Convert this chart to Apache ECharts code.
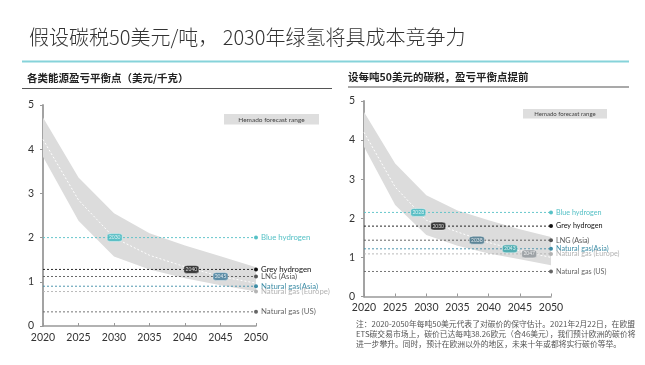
<!DOCTYPE html>
<html>
<head>
<meta charset="utf-8">
<script src="https://cdn.jsdelivr.net/npm/echarts@6/dist/echarts.min.js"></script>
<style>
html,body{margin:0;padding:0;background:#fff;}
#c{width:645px;height:365px;}
</style>
</head>
<body>
<div id="c"></div>
<script>
// ---------- data ----------
const years = [2020, 2025, 2030, 2035, 2040, 2045, 2050];
const xTicks = ['2020','2025','2030','2035','2040','2045','2050'];

// left chart: break-even without carbon tax
const leftUpper  = [4.72, 3.36, 2.55, 2.10, 1.82, 1.58, 1.33];
const leftLower  = [3.83, 2.38, 1.57, 1.28, 1.08, 0.92, 0.78];
const leftMedian = [4.22, 2.85, 2.00, 1.60, 1.34, 1.12, 0.97];
const fuelNames  = ['Blue hydrogen', 'Grey hydrogen', 'LNG (Asia)', 'Natural gas(Asia)', 'Natural gas (Europe)', 'Natural gas (US)'];
const leftLevels = [2.00, 1.28, 1.12, 0.90, 0.78, 0.32];
const leftBadgeYears = ['2030', '2040', '2045'];
const leftBadgeX     = [2030.1, 2040.9, 2045.0];
const leftBadgeY     = [2.00, 1.28, 1.12];

// right chart: with 50 USD/t carbon tax
const rightUpper  = [4.72, 3.40, 2.59, 2.20, 1.95, 1.72, 1.52];
const rightLower  = [3.83, 2.34, 1.57, 1.30, 1.10, 0.95, 0.80];
const rightMedian = [4.20, 2.80, 1.95, 1.65, 1.38, 1.17, 1.00];
const rightLevels = [2.15, 1.80, 1.44, 1.22, 1.09, 0.64];
const rightBadgeYears = ['2028', '2030', '2038', '2043', '2047'];
const rightBadgeX     = [2028.7, 2031.9, 2038.1, 2043.4, 2046.5];
const rightBadgeY     = [2.15, 1.80, 1.44, 1.22, 1.09];

// ---------- styles ----------
const FONT = 'Lato, "Noto Sans CJK SC", sans-serif';
const lineColors  = ['#56c1c6', '#111111', '#555555', '#3e8da6', '#b3b3b3', '#666666'];
const labelColors = ['#56c1c6', '#111111', '#555555', '#3e8da6', '#b3b3b3', '#666666'];
const leftBadgeColors  = ['#3cb8bf', '#111111', '#3d7b9b'];
const rightBadgeColors = ['#3cb8bf', '#111111', '#3e6f86', '#2fa2a8', '#8d9398'];

const grids = [
  {left: 43, right: 389, top: 105, bottom: 39},
  {left: 364, right: 94, top: 101, bottom: 68.5}
];

function xAxis(i) {
  return {
    type: 'value', gridIndex: i, min: 2020, max: 2050, interval: 5,
    axisLine: {lineStyle: {color: '#999', width: 1.5}},
    axisTick: {inside: true, length: 3, lineStyle: {color: '#999'}},
    axisLabel: {color: '#333', fontSize: 10.5, fontFamily: FONT, margin: 6,
      formatter: v => xTicks[years.indexOf(v)] || ''},
    splitLine: {show: false}
  };
}
function yAxis(i) {
  return {
    type: 'value', gridIndex: i, min: 0, max: 5, interval: 1,
    axisLine: {show: true, lineStyle: {color: '#999', width: 1.8}},
    axisTick: {show: true, length: 3, lineStyle: {color: '#999'}},
    axisLabel: {color: '#333', fontSize: 10.5, fontFamily: FONT, margin: 9},
    splitLine: {show: false}
  };
}

function bandSeries(i, upper, lower) {
  return {
    type: 'custom', xAxisIndex: i, yAxisIndex: i, z: 1, silent: true,
    data: [[2020, 0]],
    renderItem: function (params, api) {
      const pts = [];
      for (let k = 0; k < years.length; k++) pts.push(api.coord([years[k], upper[k]]));
      for (let k = years.length - 1; k >= 0; k--) pts.push(api.coord([years[k], lower[k]]));
      return {type: 'polygon', shape: {points: pts}, style: {fill: '#dcdcdc'}};
    }
  };
}
function medianSeries(i, med) {
  return {
    type: 'line', xAxisIndex: i, yAxisIndex: i, z: 3, silent: true,
    data: years.map((y, k) => [y, med[k]]),
    showSymbol: false, symbol: 'none',
    lineStyle: {color: '#ffffff', width: 1, type: [2, 2]}
  };
}
function levelSeries(i, levels, fontSize) {
  return levels.map((v, k) => ({
    type: 'line', xAxisIndex: i, yAxisIndex: i, z: 4, silent: true,
    data: [
      {value: [2020, v], symbol: 'none'},
      {value: [2050, v], symbol: 'circle', symbolSize: 4,
        label: {show: true, position: 'right', distance: 3, formatter: fuelNames[k],
          color: labelColors[k], fontSize: fontSize, fontFamily: FONT}}
    ],
    itemStyle: {color: lineColors[k]},
    lineStyle: {color: lineColors[k], width: 1, type: [2, 2], opacity: 0.9}
  }));
}
function badgeSeries(i, xs, ys, labels, colors) {
  return {
    type: 'scatter', xAxisIndex: i, yAxisIndex: i, z: 6, silent: true,
    symbol: 'roundRect', symbolSize: [15, 8],
    data: xs.map((x, k) => ({
      value: [x, ys[k]],
      itemStyle: {color: colors[k], borderColor: '#fff', borderWidth: 0.5},
      label: {show: true, position: 'inside', formatter: labels[k], color: '#fff', fontSize: 5, fontFamily: FONT}
    }))
  };
}

const series = [].concat(
  [bandSeries(0, leftUpper, leftLower), medianSeries(0, leftMedian)],
  levelSeries(0, leftLevels, 7.8),
  [badgeSeries(0, leftBadgeX, leftBadgeY, leftBadgeYears, leftBadgeColors)],
  [bandSeries(1, rightUpper, rightLower), medianSeries(1, rightMedian)],
  levelSeries(1, rightLevels, 7.2),
  [badgeSeries(1, rightBadgeX, rightBadgeY, rightBadgeYears, rightBadgeColors)]
);

const note = '注：2020-2050年每吨50美元代表了对碳价的保守估计。2021年2月22日，在欧盟\nETS碳交易市场上，碳价已达每吨38.26欧元（合46美元），我们预计欧洲的碳价将\n进一步攀升。同时，预计在欧洲以外的地区，未来十年或都将实行碳价等举。';

const graphic = [
  {type: 'text', left: 29, top: 27, style: {text: '假设碳税50美元/吨， 2030年绿氢将具成本竞争力', fill: '#333', fontSize: 20, fontWeight: 300, fontFamily: '"Noto Sans CJK SC", sans-serif'}},
  {type: 'rect', shape: {x: 22, y: 60.5, width: 607, height: 2}, style: {fill: '#86d3da'}},
  {type: 'text', left: 27, top: 73, style: {text: '各类能源盈亏平衡点（美元/千克）', fill: '#222', fontSize: 10.5, fontWeight: 'bold', fontFamily: '"Noto Sans CJK SC", sans-serif'}},
  {type: 'rect', shape: {x: 22, y: 88, width: 310, height: 1}, style: {fill: '#555'}},
  {type: 'text', left: 348, top: 72, style: {text: '设每吨50美元的碳税，盈亏平衡点提前', fill: '#222', fontSize: 10.5, fontWeight: 'bold', fontFamily: '"Noto Sans CJK SC", sans-serif'}},
  {type: 'rect', shape: {x: 348, y: 86.5, width: 281, height: 1}, style: {fill: '#555'}},
  {type: 'rect', shape: {x: 224, y: 114, width: 95, height: 10.5}, style: {fill: '#dedede'}},
  {type: 'text', x: 271.5, y: 119.5, style: {text: 'Hemado forecast range', fill: '#444', fontSize: 6.5, fontFamily: FONT, textAlign: 'center', textVerticalAlign: 'middle'}},
  {type: 'rect', shape: {x: 523, y: 109, width: 84, height: 9.5}, style: {fill: '#dedede'}},
  {type: 'text', x: 565, y: 114, style: {text: 'Hemado forecast range', fill: '#444', fontSize: 6, fontFamily: FONT, textAlign: 'center', textVerticalAlign: 'middle'}},
  {type: 'text', left: 356, top: 319, style: {text: note, fill: '#555', fontSize: 7.8, lineHeight: 10.2, fontFamily: '"Noto Sans CJK SC", sans-serif'}}
];

const chart = echarts.init(document.getElementById('c'), null, {renderer: 'canvas'});
chart.setOption({
  animation: false,
  backgroundColor: '#fff',
  grid: grids,
  xAxis: [xAxis(0), xAxis(1)],
  yAxis: [yAxis(0), yAxis(1)],
  series: series,
  graphic: graphic
});
</script>
</body>
</html>
